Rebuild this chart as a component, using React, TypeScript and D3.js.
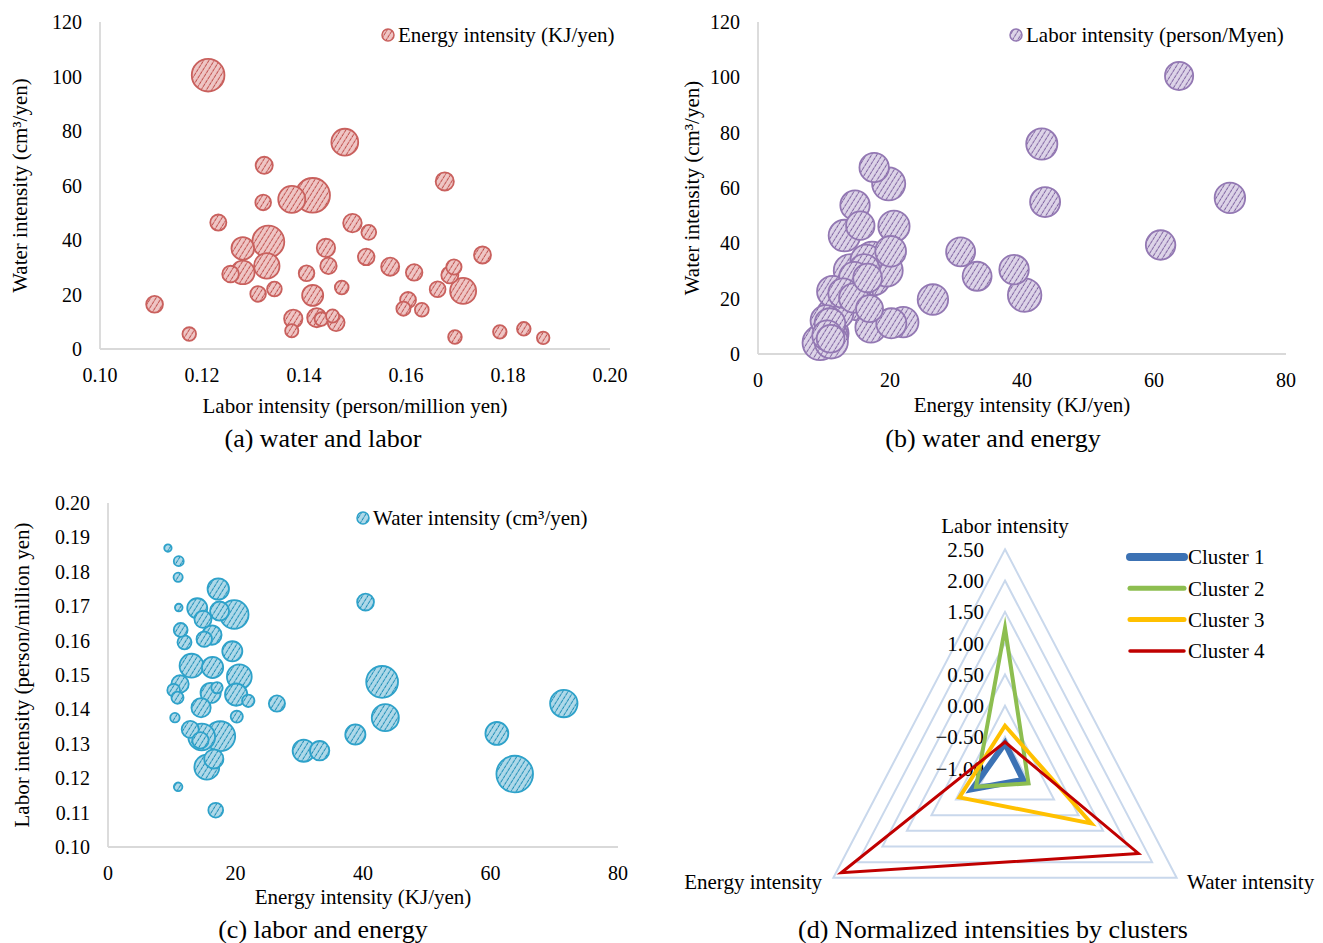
import * as React from "react";
import * as d3 from "d3";

// per-sector intensities (same sector order)
const labor = [
  0.1212, 0.148, 0.1322, 0.1676, 0.132, 0.1376, 0.1417, 0.1232, 0.1495, 0.1527,
  0.133, 0.128, 0.1443, 0.1327, 0.1448, 0.1522, 0.1569, 0.1616, 0.175, 0.1694,
  0.1686, 0.1712, 0.128, 0.1256, 0.1405, 0.131, 0.1342, 0.1417, 0.1474, 0.1662,
  0.1604, 0.1595, 0.1631, 0.1107, 0.1379, 0.1376, 0.1425, 0.1456, 0.1463, 0.1175,
  0.1696, 0.1784, 0.1831, 0.1869, 0.1434,
];
const water = [
  100.5, 75.9, 67.4, 61.5, 53.8, 54.9, 56.4, 46.4, 46.2, 42.8,
  39.4, 36.9, 37.1, 30.5, 30.5, 33.8, 30.2, 28.1, 34.5, 30.1,
  27.2, 21.3, 28.1, 27.5, 27.8, 20.2, 22.0, 19.7, 22.6, 21.9,
  18.0, 14.8, 14.4, 16.4, 11.1, 6.7, 11.5, 12.1, 9.7, 5.5,
  4.4, 6.3, 7.4, 4.1, 11.0,
];
const energy = [
  63.8, 43.0, 17.6, 19.8, 14.7, 43.5, 71.5, 15.5, 20.6, 13.1,
  61.0, 30.7, 20.1, 38.8, 16.1, 16.4, 19.5, 16.3, 17.3, 14.0,
  17.5, 40.4, 33.2, 16.6, 14.6, 14.5, 12.9, 26.5, 11.3, 14.9,
  15.1, 12.0, 11.4, 16.9, 20.2, 10.5, 22.0, 10.3, 17.1, 11.0,
  11.1, 11.0, 11.1, 9.4, 10.9,
];

const waterTicks = [0, 20, 40, 60, 80, 100, 120];
const laborTicksA = [0.1, 0.12, 0.14, 0.16, 0.18, 0.2];
const energyTicks = [0, 20, 40, 60, 80];
const laborTicksC = [0.1, 0.11, 0.12, 0.13, 0.14, 0.15, 0.16, 0.17, 0.18, 0.19, 0.2];

// normalized cluster means (d)
const clusterNames = ["Cluster 1", "Cluster 2", "Cluster 3", "Cluster 4"];
const radarAxes = ["Labor intensity", "Water intensity", "Energy intensity"];
const clusterLabor = [-0.6, 1.24, -0.32, -0.58];
const clusterWater = [-0.63, -0.52, 0.76, 1.72];
const clusterEnergy = [-0.33, -0.41, -0.07, 2.34];
const radarTicks = [-1, -0.5, 0, 0.5, 1, 1.5, 2, 2.5];

const FONT = "'Liberation Serif', 'Times New Roman', serif";
const AXIS = "#D9D9D9";

const palettes = {
  red: { id: "hatchRed", bg: "#EFC6C5", line: "#C0504D", stroke: "#C9605D" },
  purple: { id: "hatchPurple", bg: "#DDD4E8", line: "#7E62A0", stroke: "#9378B3" },
  blue: { id: "hatchBlue", bg: "#AFD9E9", line: "#1C8DB6", stroke: "#2EA2CA" },
};

const Hatch = ({ p }) => (
  <pattern id={p.id} patternUnits="userSpaceOnUse" width="4.5" height="4.5" patternTransform="rotate(32)">
    <rect width="4.5" height="4.5" fill={p.bg} />
    <line x1="2.2" y1="0" x2="2.2" y2="4.5" stroke={p.line} strokeWidth="1" strokeDasharray="2.2 0.8" />
  </pattern>
);

const BubblePanel = ({
  xs, ys, sizes, xDomain, yDomain, xRange, yRange, xTicks, yTicks, xFmt, yFmt,
  rMax, p, xTitle, yTitle, xTitleY, yTitleX, legend, legendPos, caption, captionPos,
}) => {
  const x = d3.scaleLinear().domain(xDomain).range(xRange);
  const y = d3.scaleLinear().domain(yDomain).range(yRange);
  const r = d3.scaleSqrt().domain([0, d3.max(sizes)]).range([0, rMax]);
  const order = d3.range(xs.length).sort((a, b) => sizes[b] - sizes[a]);
  const x0 = xRange[0];
  const y0 = yRange[0];
  const yMid = (yRange[0] + yRange[1]) / 2;
  const xMid = (xRange[0] + xRange[1]) / 2;
  return (
    <g fontFamily={FONT} fill="#000">
      <line x1={x0} y1={yRange[1]} x2={x0} y2={y0} stroke={AXIS} strokeWidth="1.8" />
      <line x1={x0} y1={y0} x2={xRange[1]} y2={y0} stroke={AXIS} strokeWidth="1.8" />
      {yTicks.map((t) => (
        <text key={"y" + t} x={x0 - 18} y={y(t)} dy="0.35em" textAnchor="end" fontSize="20">
          {yFmt(t)}
        </text>
      ))}
      {xTicks.map((t) => (
        <text key={"x" + t} x={x(t)} y={y0 + 26} dy="0.35em" textAnchor="middle" fontSize="20">
          {xFmt(t)}
        </text>
      ))}
      {order.map((i) => (
        <circle
          key={i}
          cx={x(xs[i])}
          cy={y(ys[i])}
          r={r(sizes[i])}
          fill={`url(#${p.id})`}
          stroke={p.stroke}
          strokeWidth="1.8"
        />
      ))}
      <text x={xMid} y={xTitleY} dy="0.35em" textAnchor="middle" fontSize="21">
        {xTitle}
      </text>
      <text
        transform={`translate(${yTitleX},${yMid}) rotate(-90)`}
        dy="0.35em"
        textAnchor="middle"
        fontSize="21"
      >
        {yTitle}
      </text>
      <circle cx={legendPos[0]} cy={legendPos[1]} r="6" fill={`url(#${p.id})`} stroke={p.stroke} strokeWidth="1.5" />
      <text x={legendPos[0] + 10} y={legendPos[1]} dy="0.35em" fontSize="21">
        {legend}
      </text>
      <text x={captionPos[0]} y={captionPos[1]} dy="0.35em" textAnchor="middle" fontSize="26">
        {caption}
      </text>
    </g>
  );
};

const clusterStyle = [
  { color: "#3C72B4", width: 6, legendWidth: 8 },
  { color: "#8DBE50", width: 4, legendWidth: 5 },
  { color: "#FFC000", width: 4, legendWidth: 5 },
  { color: "#C00000", width: 3, legendWidth: 3.5 },
];

const RadarPanel = () => {
  const cx = 1005;
  const cy = 768.3;
  const kx = 0.905;
  const rad = d3.scaleLinear().domain([-1, 2.5]).range([0, 219]);
  const angles = [0, (2 * Math.PI) / 3, (4 * Math.PI) / 3];
  const pt = (a, v) => [cx + rad(v) * Math.sin(a) * kx, cy - rad(v) * Math.cos(a)];
  const poly = d3.line().curve(d3.curveLinearClosed);
  const clusterVals = clusterNames.map((_, i) => [clusterLabor[i], clusterWater[i], clusterEnergy[i]]);
  return (
    <g fontFamily={FONT}>
      {radarTicks.slice(1).map((t) => (
        <path key={t} d={poly(angles.map((a) => pt(a, t)))} fill="none" stroke="#C9D8EC" strokeWidth="2" />
      ))}
      {radarTicks.map((t) => (
        <text key={"t" + t} x={cx - 21} y={pt(0, t)[1]} dy="0.35em" textAnchor="end" fontSize="21">
          {d3.format(".2f")(t)}
        </text>
      ))}
      {clusterVals.map((vals, i) => (
        <path
          key={i}
          d={poly(vals.map((v, k) => pt(angles[k], v)))}
          fill="none"
          stroke={clusterStyle[i].color}
          strokeWidth={clusterStyle[i].width}
          strokeLinejoin="miter"
          strokeMiterlimit="10"
        />
      ))}
      <text x={cx} y={526} dy="0.35em" textAnchor="middle" fontSize="21">
        {radarAxes[0]}
      </text>
      <text x={1187} y={882} dy="0.35em" textAnchor="start" fontSize="21">
        {radarAxes[1]}
      </text>
      <text x={822} y={882} dy="0.35em" textAnchor="end" fontSize="21">
        {radarAxes[2]}
      </text>
      {clusterNames.map((name, i) => {
        const ly = 557 + i * 31.3;
        return (
          <g key={name}>
            <line
              x1={1130}
              y1={ly}
              x2={1184}
              y2={ly}
              stroke={clusterStyle[i].color}
              strokeWidth={clusterStyle[i].legendWidth}
              strokeLinecap="round"
            />
            <text x={1188} y={ly} dy="0.35em" fontSize="21">
              {name}
            </text>
          </g>
        );
      })}
      <text x={993} y={929} dy="0.35em" textAnchor="middle" fontSize="26">
        (d) Normalized intensities by clusters
      </text>
    </g>
  );
};

const App = () => {
  const f0 = d3.format("d");
  const f2 = d3.format(".2f");
  return (
    <svg
      width={1323}
      height={943}
      viewBox="0 0 1323 943"
      style={{ position: "absolute", left: 0, top: 0, background: "#fff" }}
    >
      <defs>
        <Hatch p={palettes.red} />
        <Hatch p={palettes.purple} />
        <Hatch p={palettes.blue} />
      </defs>
      <rect width="1323" height="943" fill="#fff" />

      <BubblePanel
        xs={labor}
        ys={water}
        sizes={energy}
        xDomain={[0.1, 0.2]}
        yDomain={[0, 120]}
        xRange={[100, 610]}
        yRange={[349, 22]}
        xTicks={laborTicksA}
        yTicks={waterTicks}
        xFmt={f2}
        yFmt={f0}
        rMax={17.3}
        p={palettes.red}
        xTitle="Labor intensity (person/million yen)"
        yTitle="Water intensity (cm³/yen)"
        xTitleY={406}
        yTitleX={20}
        legend="Energy intensity (KJ/yen)"
        legendPos={[388, 35]}
        caption="(a) water and labor"
        captionPos={[323, 438]}
      />

      <BubblePanel
        xs={energy}
        ys={water}
        sizes={labor}
        xDomain={[0, 80]}
        yDomain={[0, 120]}
        xRange={[758, 1286]}
        yRange={[354, 22]}
        xTicks={energyTicks}
        yTicks={waterTicks}
        xFmt={f0}
        yFmt={f0}
        rMax={17.5}
        p={palettes.purple}
        xTitle="Energy intensity (KJ/yen)"
        yTitle="Water intensity (cm³/yen)"
        xTitleY={405}
        yTitleX={692}
        legend="Labor intensity (person/Myen)"
        legendPos={[1016, 35]}
        caption="(b) water and energy"
        captionPos={[993, 438]}
      />

      <BubblePanel
        xs={energy}
        ys={labor}
        sizes={water}
        xDomain={[0, 80]}
        yDomain={[0.1, 0.2]}
        xRange={[108, 618]}
        yRange={[847, 503]}
        xTicks={energyTicks}
        yTicks={laborTicksC}
        xFmt={f0}
        yFmt={f2}
        rMax={18.3}
        p={palettes.blue}
        xTitle="Energy intensity (KJ/yen)"
        yTitle="Labor intensity (person/million yen)"
        xTitleY={897}
        yTitleX={22}
        legend="Water intensity (cm³/yen)"
        legendPos={[363, 518]}
        caption="(c) labor and energy"
        captionPos={[323, 929]}
      />

      <RadarPanel />
    </svg>
  );
};

export default App;
